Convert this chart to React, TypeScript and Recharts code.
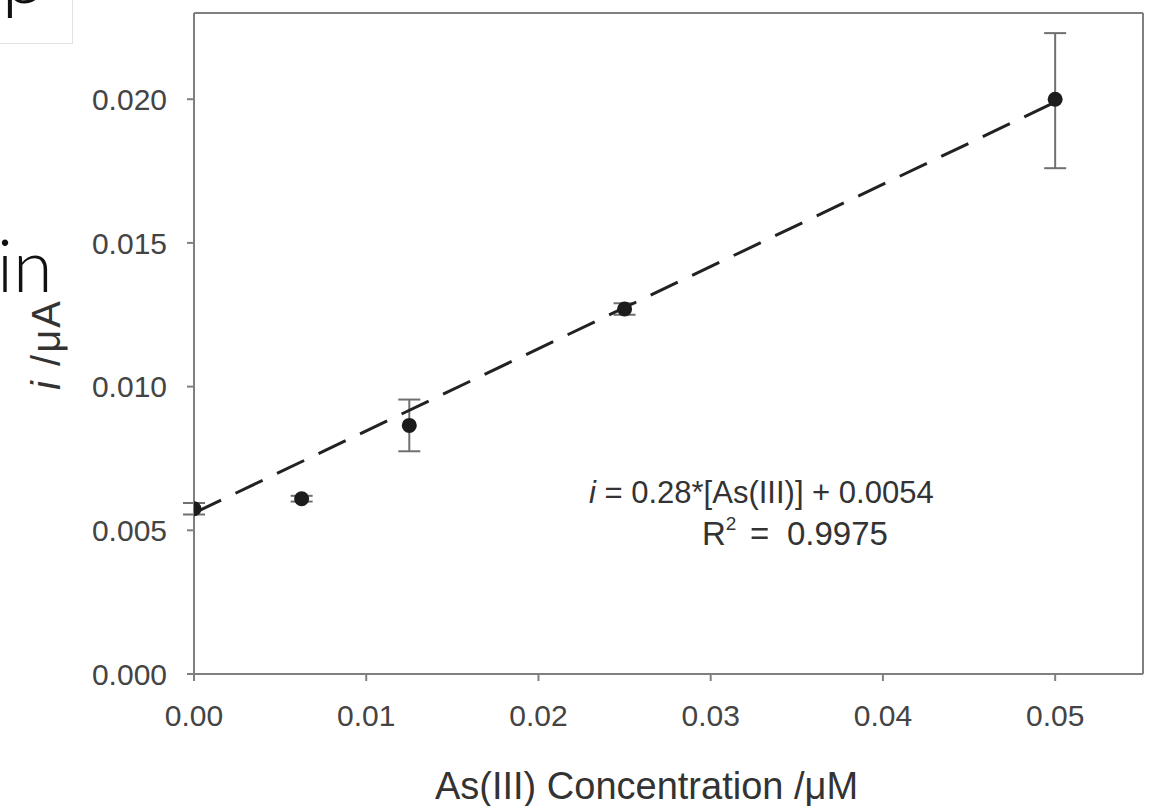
import { ScatterChart, Scatter, XAxis, YAxis, ErrorBar, ReferenceLine } from "recharts";

// measured points: As(III) concentration (µM) vs peak current (µA)
const conc = [0, 0.00625, 0.0125, 0.025, 0.05];
const current = [0.00575, 0.0061, 0.00865, 0.0127, 0.02];
const errDown = [0.0002, 0.0001, 0.0009, 0.0002, 0.0024];
const errUp = [0.0002, 0.0001, 0.0009, 0.0002, 0.0023];

// regression line end points
const fitConc = [0, 0.05];
const fitCurrent = [0.0056, 0.0199];

const xTicks = [0, 0.01, 0.02, 0.03, 0.04, 0.05];
const yTicks = [0, 0.005, 0.01, 0.015, 0.02];
const xMax = 0.0551;
const yMax = 0.023;

const points = conc.map((x, i) => ({ x, y: current[i], err: [errDown[i], errUp[i]] }));
const fit = fitConc.map((x, i) => ({ x, y: fitCurrent[i] }));

const AXIS = "#808080";
const FONT = "'Liberation Sans', Arial, sans-serif";

const YLabel = ({ viewBox }: any) => {
  const cy = viewBox.y + viewBox.height / 2 + 1;
  return (
    <text
      transform={`translate(60, ${cy}) rotate(-90)`}
      textAnchor="middle"
      fontFamily={FONT}
      fontSize={40}
      letterSpacing={2}
      fill="#333"
    >
      <tspan fontStyle="italic">i</tspan>
      <tspan> /μA</tspan>
    </text>
  );
};

const XLabel = ({ viewBox }: any) => (
  <text
    x={viewBox.x + viewBox.width / 2 - 22}
    y={799}
    textAnchor="middle"
    fontFamily={FONT}
    fontSize={38}
    fill="#333"
  >
    As(III) Concentration /μM
  </text>
);

export default function App() {
  return (
    <div style={{ position: "absolute", left: 0, top: 0, width: 1154, height: 806, background: "#fff", overflow: "hidden" }}>
      {/* page fragments around the figure */}
      <div
        style={{
          position: "absolute",
          left: -2,
          top: -2,
          width: 73,
          height: 44,
          border: "1px solid #e2e2e2",
          overflow: "hidden",
        }}
      >
        <div style={{ position: "absolute", left: 2, top: -78, fontFamily: "Lato, 'Open Sans', sans-serif", fontWeight: 300, fontSize: 84, lineHeight: "100px", color: "#111" }}>
          p
        </div>
      </div>
      <div
        style={{
          position: "absolute",
          left: -3,
          top: 214,
          fontFamily: "Lato, 'Open Sans', sans-serif",
          fontWeight: 300,
          fontSize: 72,
          lineHeight: "100px",
          color: "#111",
        }}
      >
        in
      </div>

      <ScatterChart width={1154} height={806} margin={{ top: 13, right: 11, bottom: 0, left: 0 }}>
        <XAxis
          type="number"
          dataKey="x"
          domain={[0, xMax]}
          ticks={xTicks}
          allowDataOverflow
          height={132}
          tickSize={7}
          tickMargin={24}
          tickFormatter={(v: number) => v.toFixed(2)}
          tick={{ fill: "#444", fontSize: 30, fontFamily: FONT }}
          axisLine={{ stroke: AXIS, strokeWidth: 2 }}
          tickLine={{ stroke: AXIS, strokeWidth: 2 }}
          label={<XLabel />}
        />
        <YAxis
          type="number"
          dataKey="y"
          domain={[0, yMax]}
          ticks={yTicks}
          allowDataOverflow
          width={194}
          tickSize={7}
          tickMargin={20}
          tickFormatter={(v: number) => v.toFixed(3)}
          tick={{ fill: "#444", fontSize: 30, fontFamily: FONT }}
          axisLine={{ stroke: AXIS, strokeWidth: 2 }}
          tickLine={{ stroke: AXIS, strokeWidth: 2 }}
          label={<YLabel />}
        />
        <ReferenceLine y={yMax} stroke={AXIS} strokeWidth={2} />
        <ReferenceLine x={xMax} stroke={AXIS} strokeWidth={2} />
        <Scatter
          data={fit}
          line={{ stroke: "#222", strokeWidth: 3, strokeDasharray: "30 16" }}
          lineType="joint"
          shape={() => <g />}
          isAnimationActive={false}
        />
        <Scatter
          data={points}
          isAnimationActive={false}
          shape={(p: any) => <circle cx={p.cx} cy={p.cy} r={7.5} fill="#1c1c1c" />}
        >
          <ErrorBar dataKey="err" direction="y" width={11} stroke="#707070" strokeWidth={2} />
        </Scatter>
      </ScatterChart>

      <svg width={1154} height={806} style={{ position: "absolute", left: 0, top: 0, pointerEvents: "none" }}>
        <text x={589} y={503} fontFamily={FONT} fontSize={31} fill="#333">
          <tspan fontStyle="italic">i</tspan> = 0.28*[As(III)] + 0.0054
        </text>
        <text x={702} y={545} fontFamily={FONT} fontSize={33} fill="#333">
          R<tspan fontSize={19} dy={-15}>2</tspan>
          <tspan x={750} dy={15}>=</tspan>
          <tspan x={787}>0.9975</tspan>
        </text>
      </svg>
    </div>
  );
}
